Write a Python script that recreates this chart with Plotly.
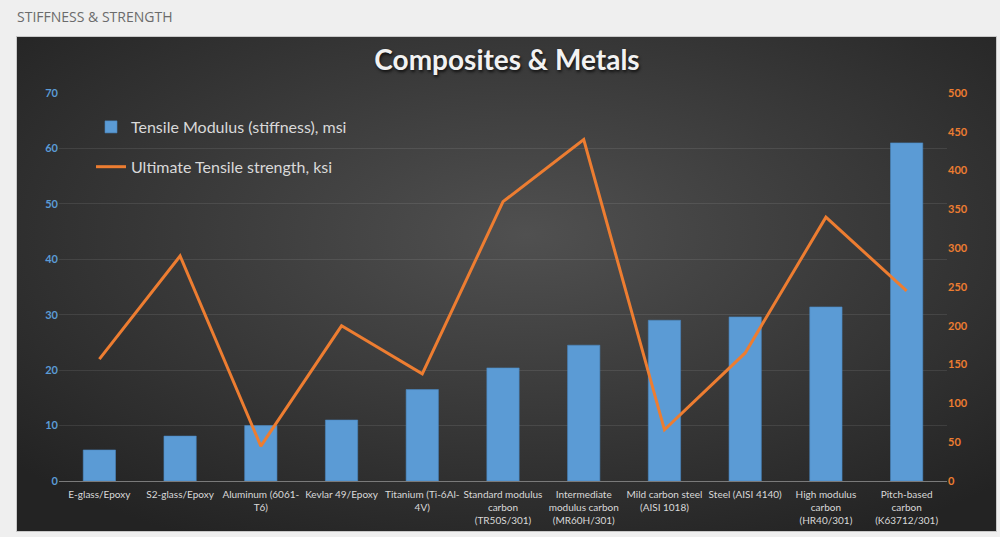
import base64

import plotly.graph_objects as go

# Values.
materials = [
    "E-glass/Epoxy",
    "S2-glass/Epoxy",
    "Aluminum (6061-<br>T6)",
    "Kevlar 49/Epoxy",
    "Titanium (Ti-6Al-<br>4V)",
    "Standard modulus<br>carbon<br>(TR50S/301)",
    "Intermediate<br>modulus carbon<br>(MR60H/301)",
    "Mild carbon steel<br>(AISI 1018)",
    "Steel (AISI 4140)",
    "High modulus<br>carbon<br>(HR40/301)",
    "Pitch-based<br>carbon<br>(K63712/301)",
]
modulus_msi = [5.6, 8.1, 10.0, 11.0, 16.5, 20.4, 24.5, 29.0, 29.6, 31.4, 61.0]
strength_ksi = [157, 290, 45, 200, 138, 360, 440, 66, 165, 340, 245]

W, H = 1000, 537
L, R, T, B = 59, 53, 93, 56
PW, PH = W - L - R, H - T - B

# dark panel behind the chart: radial gradient as an inline svg
panel = (
    "<svg xmlns='http://www.w3.org/2000/svg' width='981' height='496' "
    "preserveAspectRatio='none'><defs><radialGradient id='g' cx='0.52' cy='0.4' r='0.7'>"
    "<stop offset='0' stop-color='#505050'/><stop offset='1' stop-color='#232323'/>"
    "</radialGradient></defs><rect x='0.5' y='0.5' width='980' height='495' fill='url(#g)' "
    "stroke='#c8c8c8' stroke-width='1'/></svg>"
)
panel_src = "data:image/svg+xml;base64," + base64.b64encode(panel.encode()).decode()


def px_x(px):
    return (px - L) / PW


def px_y(py):
    return (H - B - py) / PH


fig = go.Figure()
fig.add_trace(go.Bar(
    x=materials, y=modulus_msi, name="Tensile Modulus (stiffness), msi",
    marker=dict(color="#5b9bd5", line=dict(color="#4a86c0", width=0.6)),
    legendgroup="a", hoverinfo="y",
))
fig.add_trace(go.Scatter(
    x=materials, y=strength_ksi, name="Ultimate Tensile strength, ksi", yaxis="y2",
    mode="lines", line=dict(color="#ed7d31", width=3),
    legendgroup="b", hoverinfo="y",
))

fig.update_layout(
    width=W, height=H,
    margin=dict(l=L, r=R, t=T, b=B, autoexpand=False),
    paper_bgcolor="#efefef", plot_bgcolor="rgba(0,0,0,0)",
    font=dict(family="Lato, Open Sans, sans-serif", color="#d9d9d9"),
    bargap=0.6,
    showlegend=True,
    legend=dict(x=px_x(91), y=px_y(110), xanchor="left", yanchor="top",
                bgcolor="rgba(0,0,0,0)", font=dict(size=16, color="#d9d9d9"),
                traceorder="grouped", tracegroupgap=16, itemwidth=30),
    title=dict(text="Composites & Metals", x=0.507, xanchor="center",
               y=1 - 60 / H, yanchor="middle",
               font=dict(size=28, color="#f2f2f2", weight="bold", shadow="1px 2px 3px #111")),
    xaxis=dict(showgrid=False, showline=True, linecolor="#7a7a7a", linewidth=1,
               ticks="", tickfont=dict(size=10, color="#d9d9d9"), tickangle=0,
               ticklabelstandoff=4, fixedrange=True),
    yaxis=dict(range=[0, 70], dtick=10, showgrid=True, gridcolor="rgba(255,255,255,0.09)",
               zeroline=False, showline=False, ticks="",
               tickfont=dict(size=11, color="#5b9bd5", weight="bold"), fixedrange=True),
    yaxis2=dict(range=[0, 500], dtick=50, overlaying="y", side="right", showgrid=False,
                zeroline=False, showline=False, ticks="",
                tickfont=dict(size=11, color="#ed7d31", weight="bold"), fixedrange=True),
    images=[dict(source=panel_src, xref="paper", yref="paper",
                 x=px_x(16), y=px_y(36), sizex=981 / PW, sizey=496 / PH,
                 xanchor="left", yanchor="top", sizing="stretch", layer="below")],
    annotations=[dict(text="STIFFNESS & STRENGTH", xref="paper", yref="paper",
                      x=px_x(15), y=px_y(16), xanchor="left", yanchor="middle",
                      showarrow=False,
                      font=dict(family="Open Sans, sans-serif", size=14, color="#6b6b6b"))],
)

# drop the browser's default body margin so the figure sits at the window corner
fig.write_html("out.html", config={"displayModeBar": False},
               post_script="document.body.style.margin='0';")
